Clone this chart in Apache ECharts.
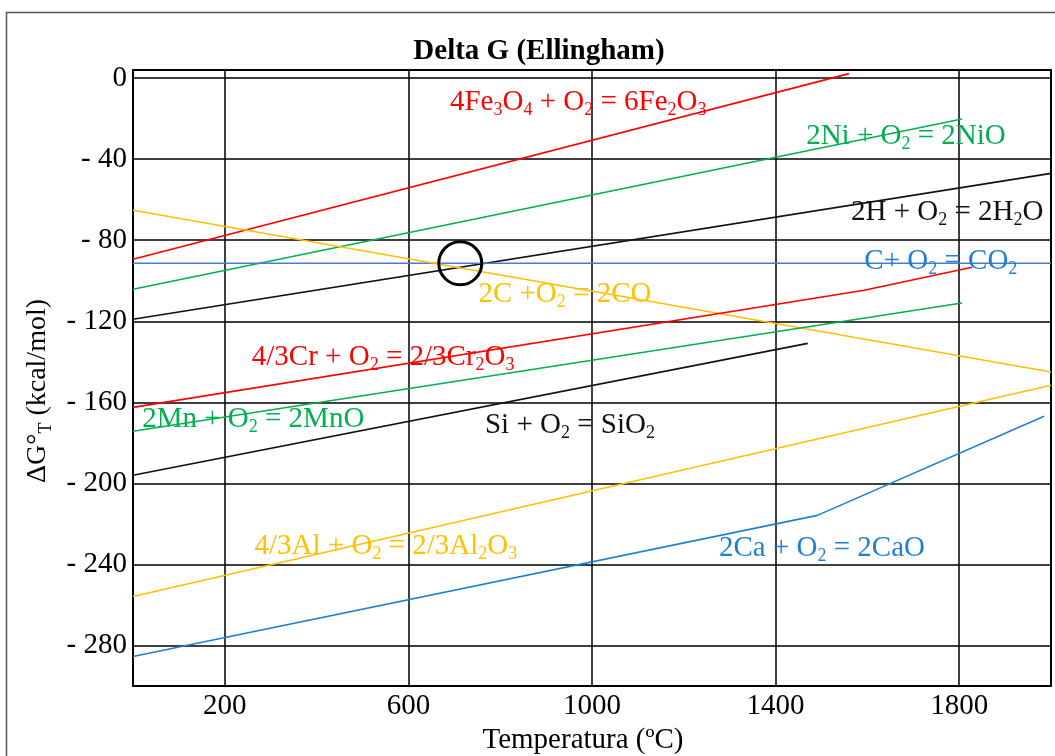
<!DOCTYPE html>
<html>
<head>
<meta charset="utf-8">
<script src="https://cdn.jsdelivr.net/npm/echarts@6/dist/echarts.min.js"></script>
<style>
html,body{margin:0;padding:0;background:#fff;}
#chart{width:1055px;height:756px;}
</style>
</head>
<body>
<div id="chart"></div>
<script>
// ---- data (temperature °C, ΔG kcal/mol) ----
const xTicks = [200, 600, 1000, 1400, 1800];
const yTicks = [0, -40, -80, -120, -160, -200, -240, -280];

const fe2o3T = [0, 1560];          const fe2o3G = [-89.4, 2.2];
const nioT   = [0, 1806];          const nioG   = [-104.2, -20.2];
const h2oT   = [0, 2000];          const h2oG   = [-119, -47];
const co2T   = [0, 2000];          const co2G   = [-91.4, -91.4];
const coT    = [0, 2000];          const coG    = [-65.2, -145];
const cr2o3T = [0, 1593, 1828];    const cr2o3G = [-162.5, -104.7, -93.3];
const mnoT   = [0, 1806];          const mnoG   = [-174.3, -111];
const sio2T  = [0, 1470];          const sio2G  = [-196, -130.9];
const al2o3T = [0, 2000];          const al2o3G = [-255.8, -151.6];
const caoT   = [0, 1491, 1985];    const caoG   = [-285.4, -215.8, -166.9];

const circleT = [713];             const circleG = [-91.4];

const labelTexts = [
  '4Fe{s|3}O{s|4} + O{s|2} = 6Fe{s|2}O{s|3}',
  '2Ni + O{s|2} = 2NiO',
  '2H + O{s|2} = 2H{s|2}O',
  'C+ O{s|2} = CO{s|2}',
  '2C +O{s|2} = 2CO',
  '4/3Cr + O{s|2} = 2/3Cr{s|2}O{s|3}',
  '2Mn + O{s|2} = 2MnO',
  'Si + O{s|2} = SiO{s|2}',
  '4/3Al + O{s|2} = 2/3Al{s|2}O{s|3}',
  '2Ca + O{s|2} = 2CaO'
];
const labelT = [970, 1684, 1774, 1760, 941, 545, 262, 952, 551, 1501];
const labelG = [-12.0, -28.6, -66.2, -90.4, -106.7, -137.8, -168.4, -171.4, -231, -232];

// ---- styles ----
const RED = '#ff0000', GREEN = '#00b050', BLACK = '#111111', YELLOW = '#ffc000';
const BLUE_LINE = '#4a7bd0', BLUE = '#1f7fd3';
const labelColors = [RED, GREEN, BLACK, BLUE, YELLOW, RED, GREEN, BLACK, YELLOW, BLUE];
const FONT = '"Liberation Serif", "Times New Roman", serif';
const FS = 29;

const zip = (a, b) => a.map((v, i) => [v, b[i]]);
const subRich = {
  s: { fontSize: 18, lineHeight: 18, padding: [18, 0, 0, 0], verticalAlign: 'top', fontFamily: FONT }
};

function lineSeries(name, xs, ys, color) {
  return {
    name: name, type: 'line', data: zip(xs, ys),
    symbol: 'none', silent: true, z: 3,
    lineStyle: { color: color, width: 1.6 }
  };
}

const chart = echarts.init(document.getElementById('chart'), null, { renderer: 'canvas' });
chart.setOption({
  animation: false,
  backgroundColor: '#fff',
  title: {
    text: 'Delta G (Ellingham)',
    left: 534, top: 32, textAlign: 'center',
    textStyle: { fontFamily: FONT, fontSize: 29, fontWeight: 'bold', color: '#000' }
  },
  graphic: [{
    type: 'rect', silent: true, z: 0,
    shape: { x: 6.5, y: 12.5, width: 1200, height: 900 },
    style: { fill: 'none', stroke: '#555', lineWidth: 1.5 }
  }],
  grid: {
    left: 133, right: 4, top: 70, bottom: 70,
    outerBoundsMode: 'none', containLabel: false,
    show: true, borderColor: '#000', borderWidth: 2, backgroundColor: 'transparent'
  },
  xAxis: {
    type: 'value', min: 0, max: 2000,
    name: 'Temperatura (ºC)', nameLocation: 'middle', nameGap: 35,
    nameTextStyle: { fontFamily: FONT, fontSize: FS, color: '#000', padding: [0, 18, 0, 0] },
    axisLine: { show: false },
    axisTick: { show: false, customValues: xTicks },
    axisLabel: { customValues: xTicks, margin: 6, fontFamily: FONT, fontSize: FS, color: '#000',
      formatter: v => String(v) },
    splitLine: { show: true, lineStyle: { color: '#000', width: 1.5 } }
  },
  yAxis: {
    type: 'value', min: -300, max: 4,
    name: 'ΔG°{s|T} (kcal/mol)', nameLocation: 'middle', nameGap: 76, nameRotate: 90,
    nameTextStyle: { fontFamily: FONT, fontSize: 28, color: '#000', lineHeight: 36, rich: subRich, padding: [0, 26, 0, 0] },
    axisLine: { show: false },
    axisTick: { show: false, customValues: yTicks },
    axisLabel: {
      customValues: yTicks, margin: 6, fontFamily: FONT, fontSize: FS, color: '#000',
      formatter: v => (v === 0 ? '0' : '- ' + Math.abs(v))
    },
    splitLine: { show: true, lineStyle: { color: '#000', width: 1.5 } }
  },
  series: [
    lineSeries('Fe2O3', fe2o3T, fe2o3G, RED),
    lineSeries('NiO', nioT, nioG, GREEN),
    lineSeries('H2O', h2oT, h2oG, BLACK),
    lineSeries('CO2', co2T, co2G, BLUE_LINE),
    lineSeries('CO', coT, coG, YELLOW),
    lineSeries('Cr2O3', cr2o3T, cr2o3G, RED),
    lineSeries('MnO', mnoT, mnoG, GREEN),
    lineSeries('SiO2', sio2T, sio2G, BLACK),
    lineSeries('Al2O3', al2o3T, al2o3G, YELLOW),
    lineSeries('CaO', caoT, caoG, BLUE),
    {
      name: 'circle', type: 'scatter', silent: true, z: 5,
      data: zip(circleT, circleG), symbol: 'circle', symbolSize: 43,
      itemStyle: { color: 'rgba(0,0,0,0)', borderColor: '#000', borderWidth: 3, opacity: 1 }
    },
    {
      name: 'labels', type: 'scatter', silent: true, z: 4,
      symbolSize: 0, itemStyle: { opacity: 1 },
      data: labelTexts.map((t, i) => ({
        value: [labelT[i], labelG[i]],
        label: {
          show: true, position: 'inside', formatter: t,
          color: labelColors[i], fontFamily: FONT, fontSize: FS, lineHeight: 38,
          rich: { s: Object.assign({}, subRich.s, { color: labelColors[i] }) }
        }
      }))
    }
  ]
});
</script>
</body>
</html>
